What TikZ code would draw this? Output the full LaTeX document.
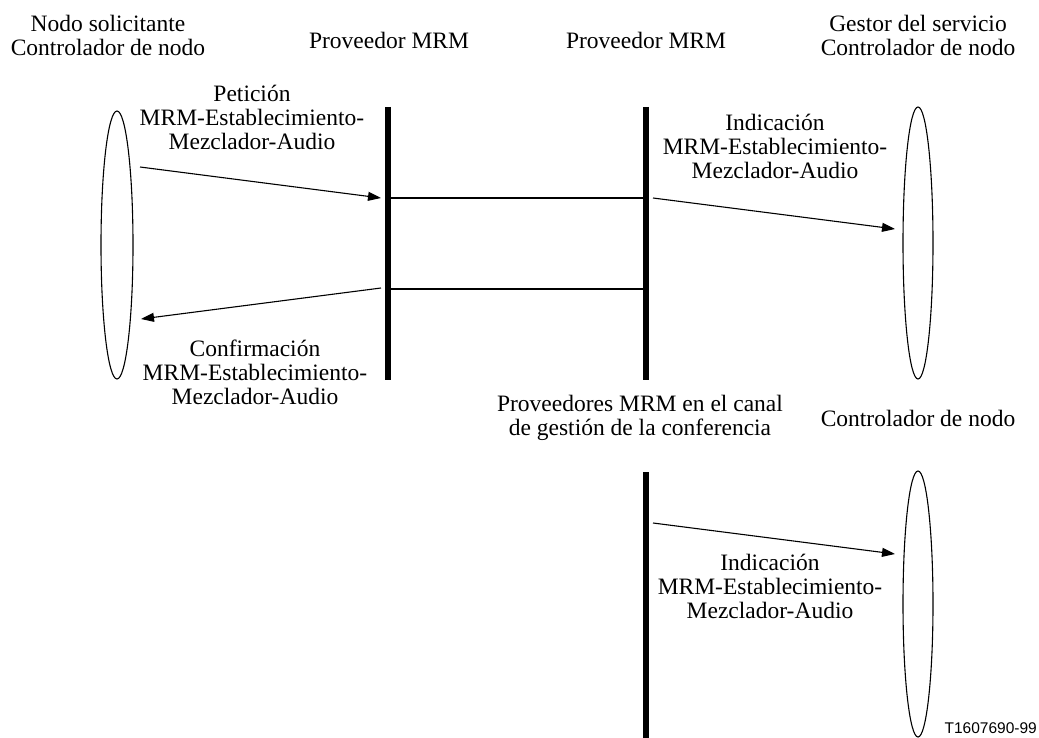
\documentclass[tikz,border=0pt]{standalone}
\usepackage{fontspec}
\setmainfont{Liberation Serif}
\newfontfamily\tagfont{Liberation Sans}
\usepackage{tikz}
\usetikzlibrary{arrows.meta,shapes.geometric}

\begin{document}
\begin{tikzpicture}[x=1pt,y=-1pt,
  party/.style={ellipse,draw,line width=1.1pt,inner sep=0,minimum width=32pt,minimum height=268pt},
  bar/.style={draw,line width=6pt},
  link/.style={draw,line width=1.3pt},
  msg/.style={draw,line width=1.1pt,-{Triangle[length=13pt,width=9pt]}},
  lbl/.style={align=center,inner sep=0,font=\fontsize{23.5}{24}\selectfont}]
 \useasboundingbox (0,0) rectangle (1039,738);
 % participants
 \node[party] (req) at (117,245) {};
 \node[party,minimum width=30pt,minimum height=272pt] (mgr) at (918,243) {};
 \node[party,minimum width=30pt,minimum height=266pt] (ctl) at (918,604) {};
 % providers
 \coordinate (b1t) at (388,107); \coordinate (b1b) at (388,380);
 \coordinate (b2t) at (646,107); \coordinate (b2b) at (646,380);
 \coordinate (b3t) at (646,472); \coordinate (b3b) at (646,738);
 \draw[bar] (b1t)--(b1b); \draw[bar] (b2t)--(b2b); \draw[bar] (b3t)--(b3b);
 \coordinate (h1a) at (391,198); \coordinate (h1b) at (643,198);
 \coordinate (h2a) at (391,289); \coordinate (h2b) at (643,289);
 \draw[link] (h1a)--(h1b); \draw[link] (h2a)--(h2b);
 % primitives
 \coordinate (m1s) at (140,167); \coordinate (m1e) at (381,198);
 \coordinate (m2s) at (381,288); \coordinate (m2e) at (141,319);
 \coordinate (m3s) at (653,198); \coordinate (m3e) at (895,229);
 \coordinate (m4s) at (653,523); \coordinate (m4e) at (895,554);
 \draw[msg] (m1s)--(m1e); \draw[msg] (m2s)--(m2e);
 \draw[msg] (m3s)--(m3e); \draw[msg] (m4s)--(m4e);
 % labels
 \node[lbl] (t1) at (108,35) {Nodo solicitante\\Controlador de nodo};
 \node[lbl] (t2) at (389,40) {Proveedor MRM};
 \node[lbl] (t3) at (646,40) {Proveedor MRM};
 \node[lbl] (t4) at (918,35) {Gestor del servicio\\Controlador de nodo};
 \node[lbl] (l1) at (252,117) {Petición\\MRM-Establecimiento-\\Mezclador-Audio};
 \node[lbl] (l2) at (255,372) {Confirmación\\MRM-Establecimiento-\\Mezclador-Audio};
 \node[lbl] (l3) at (775,146) {Indicación\\MRM-Establecimiento-\\Mezclador-Audio};
 \node[lbl] (l4) at (770,586) {Indicación\\MRM-Establecimiento-\\Mezclador-Audio};
 \node[lbl] (t5) at (640,418) {Proveedores MRM en el canal\\de gestión de la conferencia};
 \node[lbl] (t6) at (918,418) {Controlador de nodo};
 \node[inner sep=0,anchor=base east,font=\tagfont\fontsize{15.5}{17}\selectfont] (tag) at (1037,733) {T1607690-99};
\end{tikzpicture}
\end{document}
